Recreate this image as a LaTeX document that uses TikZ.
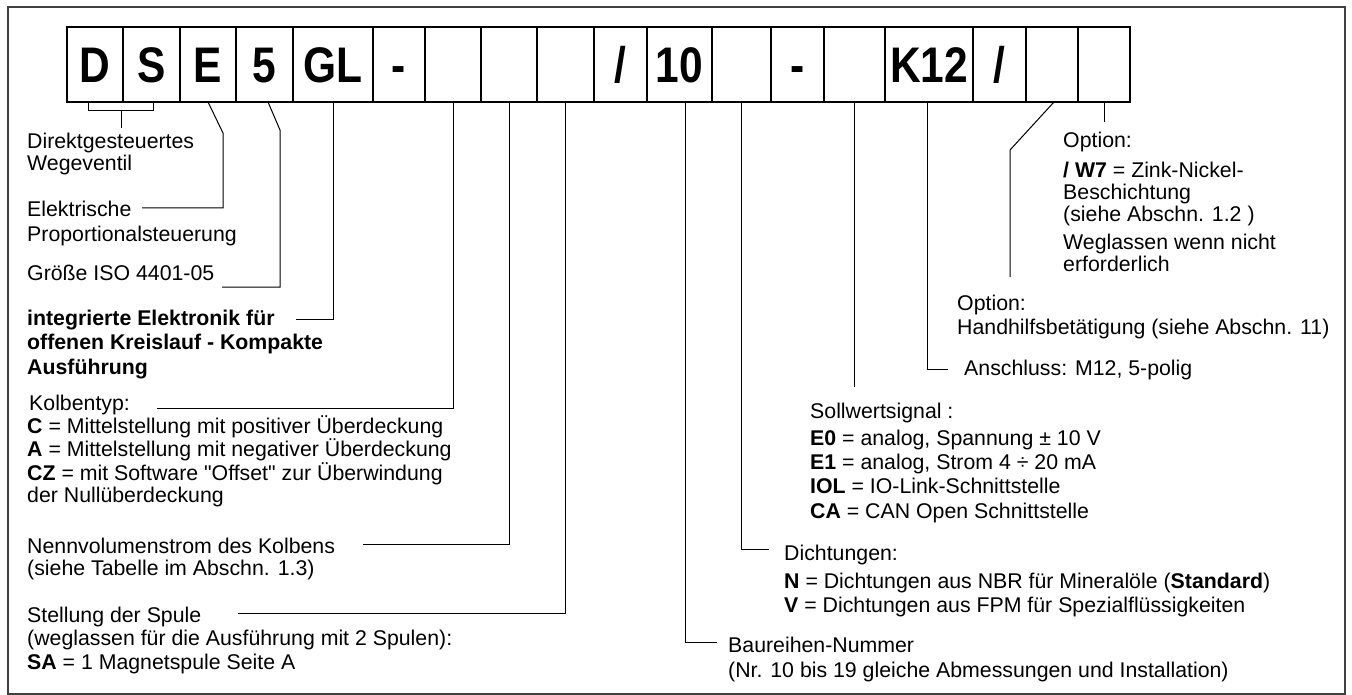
\documentclass[tikz,border=0pt]{standalone}
\usepackage{fontspec}
\setmainfont{Liberation Sans}
\newfontfamily\bodyfont{Liberation Sans}
\newfontfamily\codefont[FakeStretch=0.85]{Liberation Sans}
\usetikzlibrary{positioning}

\begin{document}
\begin{tikzpicture}[
    x=1pt, y=-1pt,
    field/.style={
        draw,
        line width=1.2pt,
        minimum height=75pt,
        inner sep=0pt,
        outer sep=0pt,
        text height=36pt,
        text depth=0pt,
        font=\codefont\bfseries\fontsize{50}{50}\selectfont
    },
    note/.style={font=\bodyfont\fontsize{21.3}{22}\selectfont, align=left, anchor=base west, inner sep=0pt},
    lead/.style={line width=1pt}
]
\useasboundingbox (0,0) rectangle (1352,695);
\draw[line width=1.6pt, black!75] (8,7) rectangle (1345,694);

\node[field, minimum width=56pt] (bD) at (95,64.5) {D};
\node[field, minimum width=57pt, right=0cm of bD] (bS) {S};
\node[field, minimum width=56pt, right=0cm of bS] (bE) {E};
\node[field, minimum width=57pt, right=0cm of bE] (b5) {5};
\node[field, minimum width=80pt, right=0cm of b5] (bGL) {GL};
\node[field, minimum width=52pt, right=0cm of bGL] (bDashA) {-};
\node[field, minimum width=56pt, right=0cm of bDashA] (bKt) {};
\node[field, minimum width=56pt, right=0cm of bKt] (bNv) {};
\node[field, minimum width=57pt, right=0cm of bNv] (bSp) {};
\node[field, minimum width=53pt, right=0cm of bSp] (bSlA) {/};
\node[field, minimum width=65pt, right=0cm of bSlA] (b10) {10};
\node[field, minimum width=59pt, right=0cm of b10] (bDi) {};
\node[field, minimum width=53pt, right=0cm of bDi] (bDashB) {-};
\node[field, minimum width=61pt, right=0cm of bDashB] (bSw) {};
\node[field, minimum width=88pt, right=0cm of bSw] (bK12) {K12};
\node[field, minimum width=53pt, right=0cm of bK12] (bSlB) {/};
\node[field, minimum width=52pt, right=0cm of bSlB] (bHh) {};
\node[field, minimum width=52pt, right=0cm of bHh] (bOpt) {};

\node[note] (lDir) at (27,171) {Direktgesteuertes\\Wegeventil};
\node[note] (lElek) at (27,242) {Elektrische\\[3pt]Proportionalsteuerung};
\node[note] (lSize) at (27,280) {Größe ISO 4401-05};
\node[note, font=\bodyfont\fontsize{21.3}{22}\selectfont\bfseries] (lElec) at (27,374)
    {integrierte Elektronik für\\[2.5pt]offenen Kreislauf - Kompakte\\[2.5pt]Ausführung};
\node[note] (lKolb) at (27,502) {\hspace{2pt}Kolbentyp:\\
    \textbf{C} = Mittelstellung mit positiver Überdeckung\\
    \textbf{A} = Mittelstellung mit negativer Überdeckung\\
    \textbf{CZ} = mit Software "Offset" zur Überwindung\\
    der Nullüberdeckung};
\node[note] (lNenn) at (27,575) {Nennvolumenstrom des Kolbens\\(siehe Tabelle im Abschn. 1.3)};
\node[note] (lSpule) at (27,669) {Stellung der Spule\\[1.5pt]
    (weglassen für die Ausführung mit 2 Spulen):\\[1.5pt]
    \textbf{SA} = 1 Magnetspule Seite A};

\node[note] (lOpt) at (1063,272) {Option:\\[8pt]
    \textbf{/ W7} = Zink-Nickel-\\
    Beschichtung\\
    (siehe Abschn. 1.2 )\\[7pt]
    Weglassen wenn nicht\\
    erforderlich};
\node[note] (lHand) at (957,334) {Option:\\[2pt]Handhilfsbetätigung (siehe Abschn. 11)};
\node[note] (lAnsch) at (964,375) {Anschluss: M12, 5-polig};
\node[note] (lSoll) at (810,518) {Sollwertsignal :\\[5pt]
    \textbf{E0} = analog, Spannung ± 10 V\\[2.3pt]
    \textbf{E1} = analog, Strom 4 ÷ 20 mA\\[2.3pt]
    \textbf{IOL} = IO-Link-Schnittstelle\\[2.3pt]
    \textbf{CA} = CAN Open Schnittstelle};
\node[note] (lDicht) at (784,612) {Dichtungen:\\[6pt]
    \textbf{N} = Dichtungen aus NBR für Mineralöle (\textbf{Standard})\\[2pt]
    \textbf{V} = Dichtungen aus FPM für Spezialflüssigkeiten};
\node[note] (lBau) at (728,677) {Baureihen-Nummer\\[3pt](Nr. 10 bis 19 gleiche Abmessungen und Installation)};

\coordinate (cDir) at (121,128);
\coordinate (cElek) at (142,208);
\coordinate (cSize) at (222,287);
\coordinate (cElec) at (296,319);
\coordinate (cKolb) at (157,408);
\coordinate (cNenn) at (363,544);
\coordinate (cSpule) at (238,613);
\coordinate (cOpt) at (1104,122);
\coordinate (cHand) at (1010,277);
\coordinate (cAnsch) at (948,369);
\coordinate (cSoll) at (854.5,387);
\coordinate (cDicht) at (769,549);
\coordinate (cBau) at (717,642);

\draw[lead] ([xshift=-7pt]bD.south) -- ++(0,9) -| ([xshift=1.5pt]bS.south);
\draw[lead] (121,111) -- (cDir);
\draw[lead] (bE.south) -- ++(15,31) |- (cElek);
\draw[lead] ([xshift=3.5pt]b5.south) -- ++(12,28) |- (cSize);
\draw[lead] (bGL.south) |- (cElec);
\draw[lead] (bKt.south) |- (cKolb);
\draw[lead] (bNv.south) |- (cNenn);
\draw[lead] (bSp.south) |- (cSpule);
\draw[lead] ([xshift=5.5pt]b10.south) |- (cBau);
\draw[lead] (bDi.south) |- (cDicht);
\draw[lead] (bSw.south) -- (cSoll);
\draw[lead] ([xshift=-2pt]bK12.south) |- (cAnsch);
\draw[lead] ([xshift=2pt]bHh.south) -- ++(-44,48) -- (cHand);
\draw[lead] (bOpt.south) -- (cOpt);
\end{tikzpicture}
\end{document}
